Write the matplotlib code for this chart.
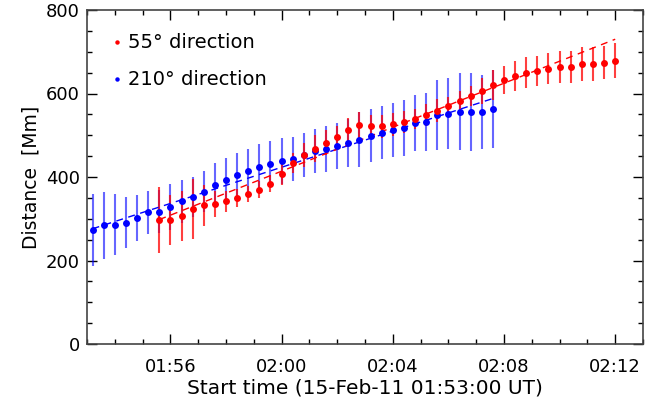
import matplotlib
matplotlib.use("Agg")
import matplotlib.pyplot as plt
import matplotlib.dates as mdates
import pandas as pd

# ---- data (24 s cadence, 15-Feb-2011) -----------------------------------------
TIMES = ["01:53:12", "01:53:36", "01:54:00", "01:54:24", "01:54:48", "01:55:12",
         "01:55:36", "01:56:00", "01:56:24", "01:56:48", "01:57:12", "01:57:36",
         "01:58:00", "01:58:24", "01:58:48", "01:59:12", "01:59:36", "02:00:00",
         "02:00:24", "02:00:48", "02:01:12", "02:01:36", "02:02:00", "02:02:24",
         "02:02:48", "02:03:12", "02:03:36", "02:04:00", "02:04:24", "02:04:48",
         "02:05:12", "02:05:36", "02:06:00", "02:06:24", "02:06:48", "02:07:12",
         "02:07:36", "02:08:00", "02:08:24", "02:08:48", "02:09:12", "02:09:36",
         "02:10:00", "02:10:24", "02:10:48", "02:11:12", "02:11:36", "02:12:00"]

# 210 deg direction (first 37 times)
BLUE_D = [273, 284, 286, 291, 301, 315, 317, 329, 342, 351, 365, 381, 394, 405,
          415, 425, 431, 438, 443, 452, 463, 466, 474, 482, 489, 499, 506, 513,
          518, 530, 532, 549, 552, 556, 556, 556, 563]
BLUE_ERR = [86, 80, 73, 60, 55, 52, 52, 55, 52, 48, 49, 52, 51, 53, 53, 54, 55,
            55, 52, 53, 53, 55, 55, 58, 66, 64, 63, 64, 67, 67, 70, 84, 85, 92,
            94, 89, 94]

# 55 deg direction (from the 7th time on)
RED_D = [297, 297, 307, 323, 332, 335, 342, 350, 359, 370, 384, 407, 433, 453,
         468, 482, 496, 512, 524, 521, 521, 526, 532, 539, 549, 559, 570, 582,
         594, 606, 620, 632, 642, 650, 654, 659, 663, 663, 671, 671, 674, 679]
RED_ERR = [80, 60, 60, 72, 50, 32, 25, 21, 20, 20, 21, 25, 24, 28, 33, 30, 27,
           30, 31, 27, 27, 27, 27, 24, 27, 27, 22, 25, 25, 30, 36, 34, 35, 37,
           37, 37, 38, 38, 40, 40, 40, 43]

# linear fits (end points)
BLUE_FIT_T = ["01:53:12", "02:07:36"]
BLUE_FIT_D = [276, 588]
RED_FIT_T = ["01:55:36", "02:12:00"]
RED_FIT_D = [298, 730]

XLIM = ["01:53:00", "02:13:00"]
LABELS = ["55\u00b0 direction", "210\u00b0 direction"]


def ts(lst):
    return pd.to_datetime(["2011-02-15 " + s for s in lst])


def main():
    t = ts(TIMES)
    tb = t[:len(BLUE_D)]
    tr = t[len(t) - len(RED_D):]

    plt.rcParams.update({"font.family": "DejaVu Sans", "font.size": 13})
    fig = plt.figure(figsize=(6.54, 4.0), dpi=100)
    ax = fig.add_axes([87 / 654, 56 / 400, 556 / 654, 334 / 400])

    ax.errorbar(tb, BLUE_D, yerr=BLUE_ERR, fmt="none", ecolor="#0000ff",
                elinewidth=1.5, alpha=0.6, capsize=0, zorder=2)
    ax.errorbar(tr, RED_D, yerr=RED_ERR, fmt="none", ecolor="#ff0000",
                elinewidth=1.5, alpha=0.75, capsize=0, zorder=2)
    ax.plot(ts(BLUE_FIT_T), BLUE_FIT_D, color="#0000ff", lw=1.0,
            dashes=(5, 4), zorder=3)
    ax.plot(ts(RED_FIT_T), RED_FIT_D, color="#ff0000", lw=1.0,
            dashes=(5, 4), zorder=3)
    ax.plot(tb, BLUE_D, "o", color="#0000ff", ms=5, mec="none", zorder=4)
    ax.plot(tr, RED_D, "o", color="#ff0000", ms=5, mec="none", zorder=5)

    ax.set_xlim(ts(XLIM))
    ax.set_ylim(0, 800)
    ax.xaxis.set_major_locator(mdates.MinuteLocator(byminute=range(0, 60, 4)))
    ax.xaxis.set_minor_locator(mdates.MinuteLocator())
    ax.xaxis.set_major_formatter(mdates.DateFormatter("%H:%M"))
    ax.set_yticks([0, 200, 400, 600, 800])
    ax.set_yticks(range(0, 801, 50), minor=True)
    ax.tick_params(which="both", direction="in", top=True, right=True,
                   color="black", labelsize=13)
    ax.tick_params(which="major", length=7, width=1)
    ax.tick_params(which="minor", length=3.5, width=1)
    ax.tick_params(axis="x", pad=10)
    ax.tick_params(axis="y", pad=5)
    for sp in ax.spines.values():
        sp.set_color("#444444")
        sp.set_linewidth(1.2)

    ax.set_xlabel("Start time (15-Feb-11 01:53:00 UT)", fontsize=14.5, labelpad=2)
    ax.set_ylabel("Distance  [Mm]", fontsize=13.5, labelpad=4)

    # legend drawn as dots + text, like the original
    for i, (lab, col) in enumerate(zip(LABELS, ["#ff0000", "#0000ff"])):
        y = 0.904 - i * 0.111
        ax.plot([0.054], [y], "o", color=col, ms=3.2, mec="none",
                transform=ax.transAxes)
        ax.text(0.073, y, lab, transform=ax.transAxes, fontsize=14,
                va="center", ha="left")

    fig.savefig("out.png", dpi=100, facecolor="white")


if __name__ == "__main__":
    main()
